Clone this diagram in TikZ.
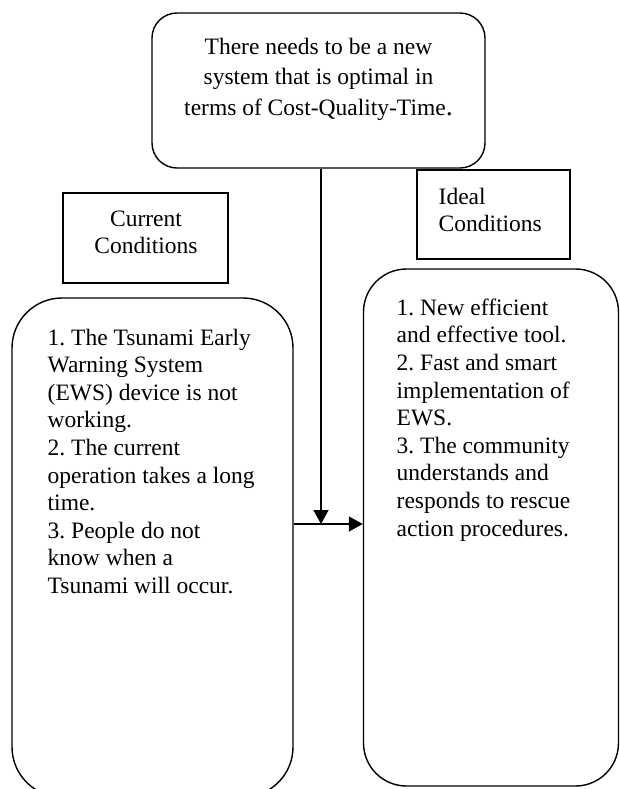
\documentclass[tikz,border=0pt]{standalone}
\usepackage{fontspec}
\setmainfont{Liberation Serif}
\usetikzlibrary{arrows.meta}
\frenchspacing

\begin{document}
\begin{tikzpicture}[x=0.5pt, y=-0.5pt, line width=0.7pt,
    box/.style = {draw, inner sep=0pt},
    txt/.style = {inner sep=0pt, align=left, font=\fontsize{11.75}{13.8}\selectfont},
    arr/.style = {-{Triangle[length=7pt,width=7.5pt]}}]
    \useasboundingbox (0,0) rectangle (620,789);
    % boxes
    \node[box, rounded corners=12.5pt, minimum width=166.5pt, minimum height=77.5pt] (top) at (318.5,90.5) {};
    \node[box, minimum width=82.5pt, minimum height=45pt] (cur) at (145.5,238) {};
    \node[box, minimum width=76.5pt, minimum height=44.5pt] (ideal) at (493.5,214.5) {};
    \node[box, rounded corners=25pt, minimum width=140.5pt, minimum height=249.5pt] (left) at (152.5,547.5) {};
    \node[box, rounded corners=21.5pt, minimum width=127.5pt, minimum height=258.5pt] (right) at (491,527.5) {};
    % texts
    \node[txt, align=center, anchor=north, font=\fontsize{11.75}{15.25}\selectfont] (toptxt) at (318.5,37)
        {There needs to be a new\\ system that is optimal in\\ terms of Cost-Quality-Time{\fontsize{14}{15}\selectfont.}};
    \node[txt, align=center, anchor=north] (curtxt) at (146,210) {Current\\ Conditions};
    \node[txt, anchor=north west] (idealtxt) at (438,187) {Ideal\\ Conditions};
    \node[txt, anchor=north west] (lefttxt) at (47,328)
        {1. The Tsunami Early\\ Warning System\\ (EWS) device is not\\ working.\\ 2. The current\\
         operation takes a long\\ time.\\ 3. People do not\\ know when a\\ Tsunami will occur.};
    \node[txt, anchor=north west] (righttxt) at (396,298)
        {1. New efficient\\ and effective tool.\\ 2. Fast and smart\\ implementation of\\ EWS.\\
         3. The community\\ understands and\\ responds to rescue\\ action procedures.};
    % arrows
    \coordinate (meet) at (321,524);
    \draw[arr] (top.south -| meet) -- (meet);
    \draw[arr] (left.east |- meet) -- (right.west |- meet);
\end{tikzpicture}
\end{document}
